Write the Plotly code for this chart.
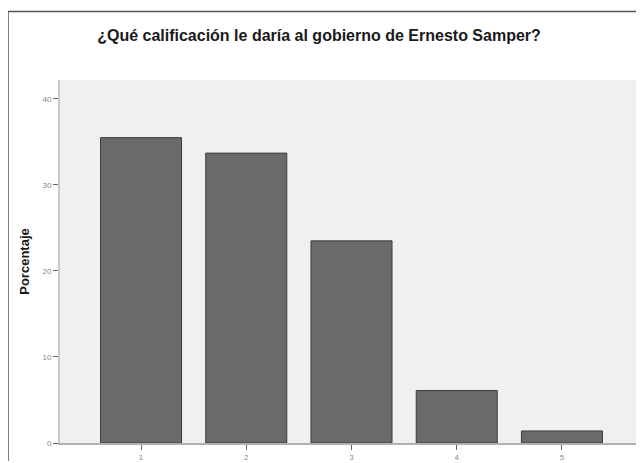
import plotly.graph_objects as go

categories = [1, 2, 3, 4, 5]
percentages = [35.5, 33.7, 23.5, 6.1, 1.4]
y_ticks = [0, 10, 20, 30, 40]
title_text = "¿Qué calificación le daría al gobierno de Ernesto Samper?"
y_title = "Porcentaje"

# page body has an 8px margin, so the figure is drawn offset by (8, 8)
OFF = 8
W, H = 636, 455
L, R, T, B = 52, 1, 72, 18
pw, ph = W - L - R, H - T - B

def px_x(px):
    return (px - OFF - L) / pw

def px_y(py):
    return (H - B - (py - OFF)) / ph

fig = go.Figure(
    go.Bar(
        x=categories,
        y=percentages,
        width=0.77,
        marker=dict(color="#6a6a6a", line=dict(color="#3c3c3c", width=1)),
    )
)

fig.update_layout(
    width=W,
    height=H,
    margin=dict(l=L, r=R, t=T, b=B, pad=0),
    paper_bgcolor="white",
    plot_bgcolor="#f0f0f0",
    showlegend=False,
    font=dict(family="Liberation Sans, Arial, sans-serif", color="#444"),
    title=dict(
        text="<b>" + title_text + "</b>",
        x=(319 - OFF) / W,
        xref="container",
        xanchor="center",
        y=1 - (35 - OFF) / H,
        yanchor="middle",
        font=dict(size=16, color="#1a1a1a"),
    ),
    xaxis=dict(
        range=[0.23, 5.77],
        tickmode="array",
        tickvals=categories,
        ticktext=[str(c) for c in categories],
        ticks="outside",
        ticklen=5,
        tickcolor="#666",
        tickfont=dict(size=8, color="#888"),
        showgrid=False,
        zeroline=False,
        showline=True,
        linecolor="#b0b0b0",
        linewidth=2,
    ),
    yaxis=dict(
        range=[0, 42.2],
        tickmode="array",
        tickvals=y_ticks,
        ticktext=[str(v) for v in y_ticks],
        ticks="outside",
        ticklen=5,
        tickcolor="#666",
        tickfont=dict(size=8, color="#888"),
        showgrid=False,
        zeroline=False,
        showline=True,
        linecolor="#c8c8c8",
        linewidth=2,
        title=dict(text="<b>" + y_title + "</b>", font=dict(size=13, color="#1a1a1a"), standoff=10),
    ),
    shapes=[
        dict(type="line", xref="paper", yref="paper",
             x0=px_x(8), x1=px_x(644), y0=px_y(11), y1=px_y(11),
             line=dict(color="#555", width=1.5)),
        dict(type="line", xref="paper", yref="paper",
             x0=px_x(8), x1=px_x(8), y0=px_y(11), y1=px_y(463),
             line=dict(color="#555", width=1.5)),
    ],
)

fig.write_html("out.html")
